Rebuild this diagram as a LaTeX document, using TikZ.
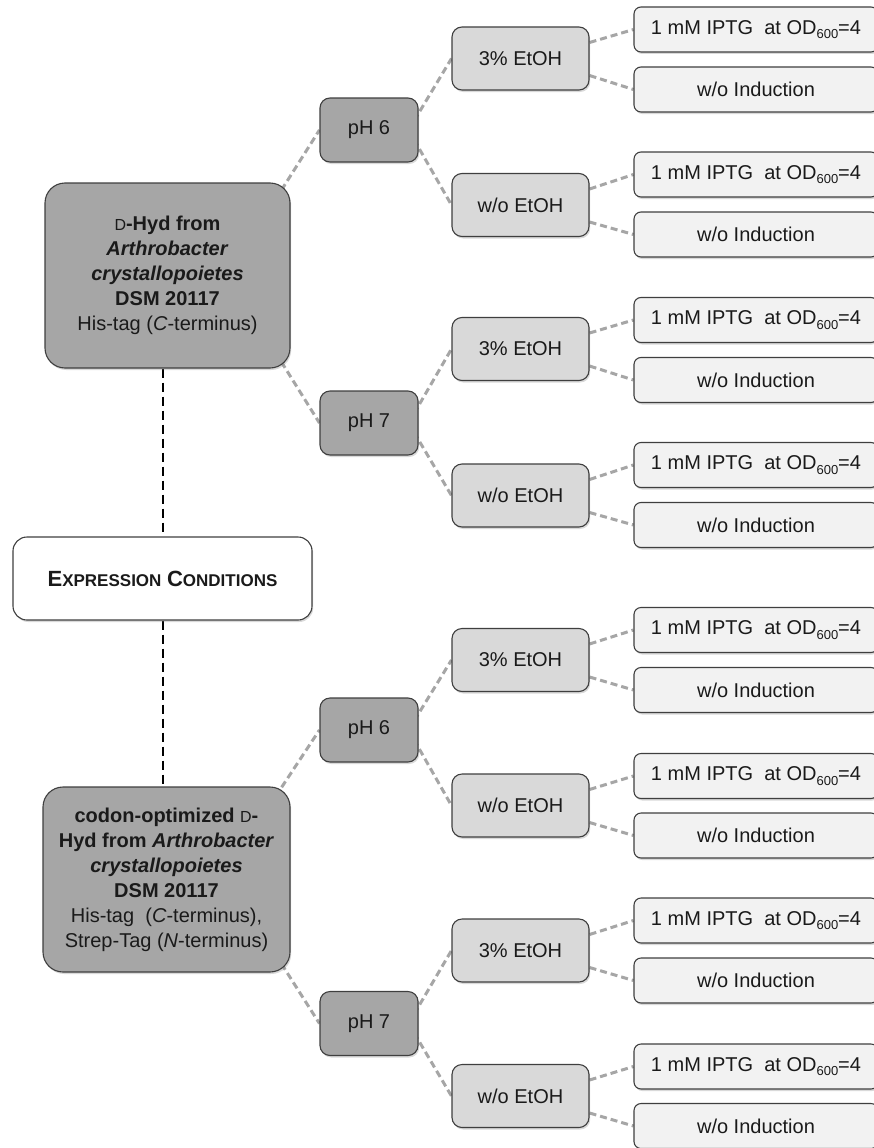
\documentclass[tikz,border=0pt]{standalone}
\usepackage{fontspec}
\setmainfont{Liberation Sans}
\usetikzlibrary{calc,shadows,backgrounds}
\definecolor{midgray}{HTML}{A6A6A6}
\definecolor{ltgray}{HTML}{D9D9D9}
\definecolor{palegray}{HTML}{F2F2F2}
\definecolor{bordercol}{HTML}{3F3F3F}
\definecolor{conncol}{HTML}{A6A6A6}
\definecolor{txtcol}{HTML}{1A1A1A}
\newcommand{\odsub}{OD\raisebox{-0.22em}{\fontsize{13}{13}\selectfont 600}=4}
\newcommand{\scD}{{\mdseries\fontsize{16}{25}\selectfont D}}
\newcommand{\leafA}{1 mM IPTG~ at \odsub}
\newcommand{\leafB}{w/o Induction}
\newcommand{\etA}{3\% EtOH}
\newcommand{\etB}{w/o EtOH}
\newcommand{\bigsc}[1]{{\fontsize{22}{25}\selectfont #1}}
\newcommand{\smsc}[1]{{\fontsize{17}{25}\selectfont #1}}
\begin{document}
\begin{tikzpicture}[x=1pt,y=-1pt,
  box/.style={draw=bordercol, line width=1.1pt, align=center, inner sep=0pt, text=txtcol,
    font=\fontsize{20}{25}\selectfont,
    drop shadow={shadow xshift=1.2pt, shadow yshift=-2pt, opacity=0.3}},
  mainbox/.style={box, fill=midgray, minimum width=245pt, minimum height=185pt, rounded corners=20pt},
  phbox/.style={box, fill=midgray, minimum width=98pt, minimum height=64pt, rounded corners=10pt},
  etbox/.style={box, fill=ltgray, minimum width=137pt, minimum height=63pt, rounded corners=10pt},
  leafbox/.style={box, fill=palegray, minimum width=244pt, minimum height=45pt, rounded corners=7pt},
  exbox/.style={box, fill=white, minimum width=299pt, minimum height=83pt, rounded corners=14pt},
  conn/.style={draw=conncol, line width=3pt, dash pattern=on 7pt off 4pt},
  spine/.style={draw=black, line width=2pt, dash pattern=on 9pt off 5pt}
]
\path[use as bounding box] (0,0) rectangle (874,1148);
\clip (0,0) rectangle (874,1148);

% main nodes
\node[mainbox] (m1) at (167.5,275.5)
  {\textbf{\scD-Hyd from}\\ \textbf{\textit{Arthrobacter}}\\ \textbf{\textit{crystallopoietes}}\\ \textbf{DSM 20117}\\ His-tag (\textit{C}-terminus)};
\node[exbox] (ex) at (162.5,578.5)
  {\textbf{\bigsc{E}\smsc{XPRESSION} \bigsc{C}\smsc{ONDITIONS}}};
\node[mainbox, minimum width=247pt] (m2) at (166.5,879.5)
  {\textbf{codon-optimized \scD-}\\ \textbf{Hyd from \textit{Arthrobacter}}\\ \textbf{\textit{crystallopoietes}}\\ \textbf{DSM 20117}\\ His-tag~ (\textit{C}-terminus),\\ Strep-Tag (\textit{N}-terminus)};

% pH nodes
\foreach \i/\y/\t in {1/130/pH 6, 2/423/pH 7, 3/730/pH 6, 4/1023.5/pH 7}
  \node[phbox] (p\i) at (369,\y) {\t};

% EtOH nodes
\foreach \i/\y/\t in {1/58.5/\etA, 2/205/\etB, 3/349/\etA, 4/495.5/\etB,
                      5/660/\etA, 6/805.5/\etB, 7/950.5/\etA, 8/1096/\etB}
  \node[etbox] (e\i) at (520.5,\y) {\t};

% leaf nodes
\foreach \i/\y/\t in {1/29.5/\leafA, 2/89.5/\leafB, 3/174.5/\leafA, 4/234.5/\leafB,
                      5/320/\leafA, 6/380/\leafB, 7/465/\leafA, 8/525/\leafB,
                      9/630/\leafA, 10/690/\leafB, 11/776/\leafA, 12/835.5/\leafB,
                      13/920.5/\leafA, 14/980.5/\leafB, 15/1066.5/\leafA, 16/1126/\leafB}
  \node[leafbox] (l\i) at (756,\y) {\t};

% connectors
\begin{scope}[on background layer]
  \draw[spine] (m1.south -| ex.north) -- (ex.north);
  \draw[spine] (ex.south) -- (ex.south |- m2.north);
  \coordinate (c1) at ($(m1.north east)+(-15,17)$);
  \coordinate (c2) at ($(m1.south east)+(-15,-16)$);
  \coordinate (c3) at ($(m2.north east)+(-15,10)$);
  \coordinate (c4) at ($(m2.south east)+(-15,-18)$);
  \draw[conn] (c1) -- (p1.west);
  \draw[conn] (c2) -- (p2.west);
  \draw[conn] (c3) -- (p3.west);
  \draw[conn] (c4) -- (p4.west);
  \foreach \p/\a/\b in {1/1/2, 2/3/4, 3/5/6, 4/7/8} {
    \draw[conn] ($(p\p.east)+(-10,0)$) -- (e\a.west);
    \draw[conn] ($(p\p.east)+(-10,0)$) -- (e\b.west);
  }
  \foreach \e/\a/\b in {1/1/2, 2/3/4, 3/5/6, 4/7/8, 5/9/10, 6/11/12, 7/13/14, 8/15/16} {
    \draw[conn] ($(e\e.east)+(0,-16)$) -- (l\a.west);
    \draw[conn] ($(e\e.east)+(0,17)$) -- (l\b.west);
  }
\end{scope}
\end{tikzpicture}
\end{document}
